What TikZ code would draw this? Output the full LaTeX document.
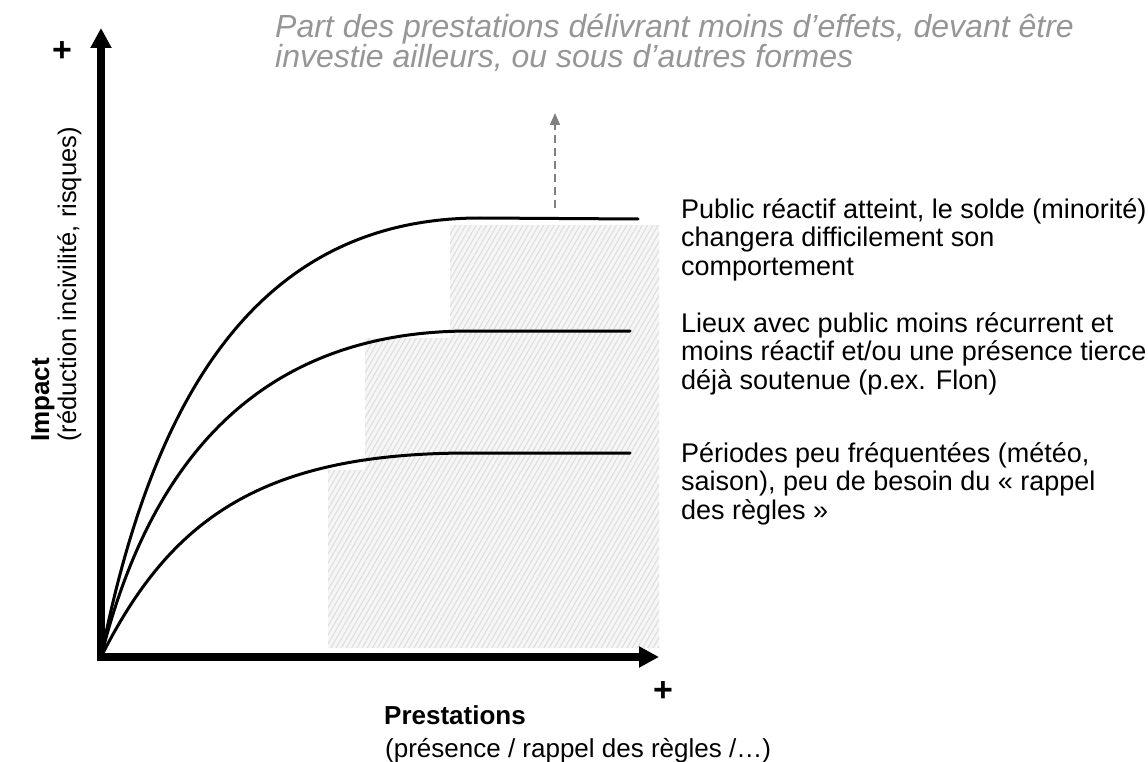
\documentclass[tikz,border=0pt]{standalone}
\usepackage{fontspec}
\setmainfont{Liberation Sans}
\usetikzlibrary{arrows.meta,patterns.meta}
\definecolor{notegray}{RGB}{150,150,150}
\definecolor{dashgray}{RGB}{128,128,128}
\definecolor{hatchbg}{RGB}{246,246,246}
\definecolor{hatchline}{RGB}{222,222,222}
\newcommand\lblfont{\fontsize{27}{28.5}\selectfont}
\begin{document}
\begin{tikzpicture}[x=1pt,y=-1pt,
  lbl/.style={font=\lblfont, inner sep=0pt, align=left},
  axisarrow/.style={line width=7.5pt, -{Triangle[length=20pt,width=20pt]}},
  curveline/.style={line width=3pt, line cap=round},
  hatchzone/.style={pattern={Lines[angle=60,distance=4.5pt,line width=1.1pt]}, pattern color=hatchline},
  plussign/.style={font=\fontsize{34}{34}\selectfont\bfseries, inner sep=0pt},
]
\useasboundingbox (0,0) rectangle (1148,762);

% hatched zone
\fill[hatchbg] (328,648) -- (659,648) -- (659,225) -- (450,225) -- (450,338) -- (365,338) -- (365,470) -- (328,470) -- cycle;
\fill[hatchzone] (328,648) -- (659,648) -- (659,225) -- (450,225) -- (450,338) -- (365,338) -- (365,470) -- (328,470) -- cycle;

% axes
\coordinate (O) at (101,657);
\coordinate (ybase) at (101,661);
\coordinate (xbase) at (97.5,657);
\coordinate (ytip) at (101,28);
\coordinate (xtip) at (659,657);
\draw[axisarrow] (ybase) -- (ytip);
\draw[axisarrow] (xbase) -- (xtip);

% curves
\coordinate (topend) at (638,219);
\coordinate (midend) at (630,331);
\coordinate (lowend) at (630,453);
\draw[curveline] (O) .. controls (150,410) and (250,218) .. (480,218) -- (topend);
\draw[curveline] (O) .. controls (150,460) and (260,331) .. (470,331) -- (midend);
\draw[curveline] (O) .. controls (170,520) and (260,453) .. (470,453) -- (lowend);

% dashed arrow
\coordinate (dashstart) at (555,208);
\coordinate (dashend) at (555,113);
\draw[dashgray, line width=1.5pt, dash pattern=on 8pt off 5pt, -{Triangle[length=12pt,width=10pt]}] (dashstart) -- (dashend);

% texts (base anchor = baseline of the last line)
\node[lbl, anchor=base west, text=notegray, font=\fontsize{32}{30}\selectfont\itshape] (note) at (275,68)
  {Part des prestations délivrant moins d’effets, devant être\\investie ailleurs, ou sous d’autres formes};
\node[lbl, anchor=base west] (t1) at (681,275)
  {Public réactif atteint, le solde (minorité)\\changera difficilement son\\comportement};
\node[lbl, anchor=base west] (t2) at (681,389)
  {Lieux avec public moins récurrent et\\moins réactif et/ou une présence tierce\\déjà soutenue (p.ex. Flon)};
\node[lbl, anchor=base west] (t3) at (681,519)
  {Périodes peu fréquentées (météo,\\saison), peu de besoin du « rappel\\des règles »};
\node[lbl, anchor=base west, font=\fontsize{26}{30}\selectfont\bfseries] (xtitle) at (384,724) {Prestations};
\node[lbl, anchor=base west, font=\fontsize{26}{30}\selectfont] (xsub) at (385,757) {(présence / rappel des règles /…)};
\node[lbl, anchor=base west, rotate=90, font=\fontsize{26}{30}\selectfont\bfseries] (ytitle) at (49,442) {Impact};
\node[lbl, anchor=base west, rotate=90, font=\fontsize{25.5}{30}\selectfont] (ysub) at (76,442) {(réduction incivilité, risques)};
\node[plussign] (yplus) at (62,52) {+};
\node[plussign] (xplus) at (663,692) {+};
\end{tikzpicture}
\end{document}
